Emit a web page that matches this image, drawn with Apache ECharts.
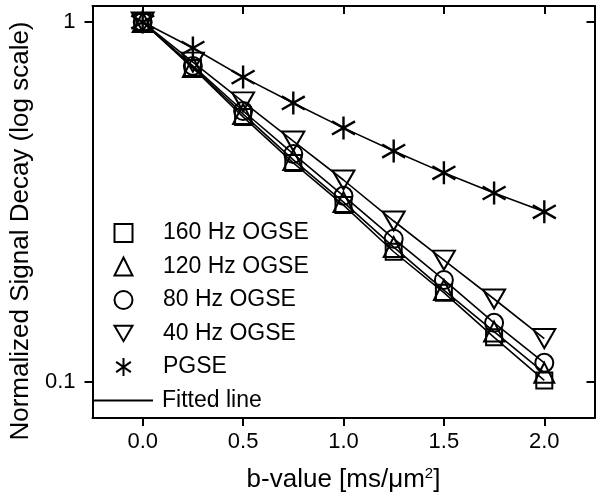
<!DOCTYPE html>
<html>
<head>
<meta charset="utf-8">
<script src="https://cdn.jsdelivr.net/npm/echarts@6/dist/echarts.min.js"></script>
<style>html,body{margin:0;padding:0;background:#fff;}#c{width:602px;height:500px;}</style>
</head>
<body>
<div id="c"></div>
<script>
const bValues = [0, 0.25, 0.5, 0.75, 1.0, 1.25, 1.5, 1.75, 2.0];
const hz160 = [1, 0.745, 0.545, 0.406, 0.310, 0.230, 0.177, 0.133, 0.101];
const hz120 = [1, 0.750, 0.555, 0.414, 0.316, 0.237, 0.180, 0.138, 0.106];
const hz80  = [1, 0.755, 0.566, 0.430, 0.329, 0.250, 0.192, 0.146, 0.113];
const hz40  = [1, 0.774, 0.600, 0.467, 0.364, 0.280, 0.218, 0.170, 0.132];
const pgse  = [1, 0.847, 0.703, 0.596, 0.508, 0.438, 0.381, 0.335, 0.297];
const seriesNames = ['160 Hz OGSE', '120 Hz OGSE', '80 Hz OGSE', '40 Hz OGSE', 'PGSE'];
const xTicks = [0, 0.5, 1.0, 1.5, 2.0];
const yTicks = [0.1, 1];

const FONT = 'Liberation Sans, Arial, sans-serif';
const pairs = arr => bValues.map((b, i) => [b, arr[i]]);
const allData = [hz160, hz120, hz80, hz40, pgse];
const symbols = [
  'rect',
  'triangle',
  'circle',
  'path://M0,0L20,0L10,17Z',
  'path://M10,0L10,20M1.8,4.3L18.2,15.7M1.8,15.7L18.2,4.3'
];
const sizes = [16, 20, 18, [22, 19], 23];

const xMin = -0.25, xMax = 2.25, yMin = 0.0794, yMax = 1.108;

const series = [];
allData.forEach((arr, k) => {
  series.push({
    name: 'Fitted line', type: 'line', data: pairs(arr), symbol: 'none',
    lineStyle: { color: '#000', width: 1.6 }, itemStyle: { color: '#000' },
    emphasis: { disabled: true }, silent: true, z: 2
  });
});
allData.forEach((arr, k) => {
  series.push({
    name: seriesNames[k], type: 'scatter', data: pairs(arr),
    symbol: symbols[k], symbolSize: sizes[k],
    itemStyle: { color: 'rgba(0,0,0,0)', borderColor: '#000', borderWidth: k === 4 ? 2.4 : 2, opacity: 1 },
    emphasis: { disabled: true }, silent: true, z: 3
  });
});

const axisLineStyle = { show: true, onZero: false, lineStyle: { color: '#000', width: 2 } };
const chart = echarts.init(document.getElementById('c'), null, { renderer: 'canvas' });
chart.setOption({
  animation: false,
  backgroundColor: '#fff',
  textStyle: { fontFamily: FONT },
  grid: { left: 89.5, right: 7.5, top: 6, bottom: 82, containLabel: false },
  xAxis: [
    {
      type: 'value', min: xMin, max: xMax, position: 'bottom',
      name: 'b-value [ms/μm{sup|2}]', nameLocation: 'middle', nameGap: 48,
      nameTextStyle: { color: '#000', fontSize: 26, fontFamily: FONT,
        rich: { sup: { fontSize: 15, verticalAlign: 'top', padding: [0, 0, 12, 0], color: '#000', fontFamily: FONT } } },
      axisLine: axisLineStyle,
      axisTick: { show: true, inside: false, length: 8, customValues: xTicks, lineStyle: { color: '#000', width: 2 } },
      axisLabel: { show: true, customValues: xTicks, margin: 13, color: '#000', fontSize: 22, fontFamily: FONT,
        formatter: v => v.toFixed(1) },
      splitLine: { show: false }
    },
    {
      type: 'value', min: xMin, max: xMax, position: 'top',
      axisLine: axisLineStyle,
      axisTick: { show: true, inside: true, length: 8, customValues: xTicks, lineStyle: { color: '#000', width: 2 } },
      axisLabel: { show: false },
      splitLine: { show: false }
    }
  ],
  yAxis: [
    {
      type: 'log', logBase: 10, min: yMin, max: yMax, position: 'left',
      name: 'Normalized Signal Decay (log scale)', nameLocation: 'middle', nameGap: 55,
      nameTextStyle: { color: '#000', fontSize: 26, fontFamily: FONT, padding: [0, 38, 0, 0] },
      axisLine: axisLineStyle,
      axisTick: { show: true, inside: false, length: 8, customValues: yTicks, lineStyle: { color: '#000', width: 2 } },
      axisLabel: { show: true, customValues: yTicks, margin: 17, color: '#000', fontSize: 22, fontFamily: FONT,
        formatter: v => (Math.abs(v - 1) < 1e-9 ? '1' : '0.1') },
      splitLine: { show: false }
    },
    {
      type: 'log', logBase: 10, min: yMin, max: yMax, position: 'right',
      axisLine: axisLineStyle,
      axisTick: { show: true, inside: true, length: 8, customValues: yTicks, lineStyle: { color: '#000', width: 2 } },
      axisLabel: { show: false },
      splitLine: { show: false }
    }
  ],
  legend: [
    {
      data: seriesNames, orient: 'vertical', left: 113.5, top: 221.5, padding: 0,
      itemWidth: 18, itemHeight: 18, itemGap: 10.5, selectedMode: false,
      textStyle: { color: '#000', fontSize: 23, fontFamily: FONT, padding: [0, 0, 0, 25.5] },
      itemStyle: { borderWidth: 2 }
    },
    {
      data: [{ name: 'Fitted line', icon: 'rect' }], orient: 'vertical', left: 92, top: 389, padding: 0,
      itemWidth: 61, itemHeight: 1.8, selectedMode: false,
      textStyle: { color: '#000', fontSize: 23, fontFamily: FONT, padding: [0, 0, 0, 4] },
      itemStyle: { color: '#000', borderWidth: 0 }
    }
  ],
  series: series
});
</script>
</body>
</html>
